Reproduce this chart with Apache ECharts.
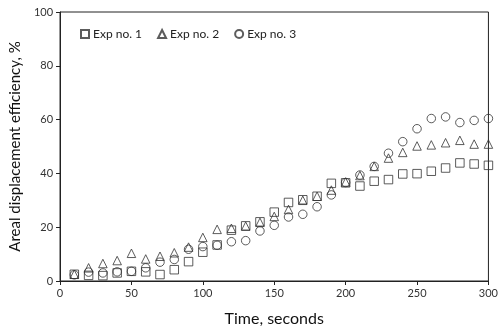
<!DOCTYPE html>
<html><head><meta charset="utf-8">
<script src="https://cdn.jsdelivr.net/npm/echarts@6/dist/echarts.min.js"></script>
<style>html,body{margin:0;padding:0;background:#fff}#c{width:501px;height:332px}</style>
</head><body><div id="c"></div>
<script>
const times = [10,20,30,40,50,60,70,80,90,100,110,120,130,140,150,160,170,180,190,200,210,220,230,240,250,260,270,280,290,300];
const exp1 = [2.5,2.1,2.0,3.0,3.6,3.4,2.4,4.2,7.2,10.7,13.4,18.9,20.5,22,25.6,29.2,30.2,31.5,36.3,36.5,35.3,37.1,37.7,39.8,39.9,40.8,42,43.9,43.5,43];
const exp2 = [2.5,4.9,6.5,7.6,10.3,8.2,9.2,10.5,12.6,16.2,19.2,19.6,20.4,21.8,24,26.6,30,31.5,33.8,36.8,39.2,42.6,45.7,47.8,50.2,50.6,51.4,52.3,50.9,50.9];
const exp3 = [2.3,3.3,3,3.4,3.6,4.9,7,8,11.8,12.8,13.3,14.6,15,18.6,20.7,23.8,24.8,27.6,32,36.6,39.4,42.6,47.5,51.8,56.6,60.4,61,58.9,59.7,60.4];
const seriesNames = ['Exp no. 1','Exp no. 2','Exp no. 3'];
const xTicks = {min:0,max:300,interval:50};
const yTicks = {min:0,max:100,interval:20};

const font = 'Lato, "Open Sans", sans-serif';
const ink = '#333';
function pts(v){return times.map((t,i)=>[t,v[i]]);}
const symbols = ['rect','triangle','circle'];
const chart = echarts.init(document.getElementById('c'));
chart.setOption({
  animation:false,
  backgroundColor:'#fff',
  grid:{left:57,right:8,top:12,bottom:49,show:true,borderColor:'#222',borderWidth:1},
  legend:{
    top:23,left:75,itemWidth:8,itemHeight:8,itemGap:15,
    textStyle:{fontFamily:font,fontSize:12,color:'#222',padding:[0,0,0,-1]},
    data:seriesNames.map((n,i)=>({name:n,icon:symbols[i]}))
  },
  xAxis:{
    type:'value',min:xTicks.min,max:xTicks.max,interval:xTicks.interval,
    name:'Time, seconds',nameLocation:'middle',nameGap:30,
    nameTextStyle:{fontFamily:font,fontSize:16,color:'#111'},
    axisLine:{lineStyle:{color:'#222'}},
    axisTick:{show:true,length:4,lineStyle:{color:'#222'}},
    axisLabel:{fontFamily:font,fontSize:11,color:'#333',margin:7},
    splitLine:{show:false}
  },
  yAxis:{
    type:'value',min:yTicks.min,max:yTicks.max,interval:yTicks.interval,
    name:'Areal displacement efficiency, %',nameLocation:'middle',nameGap:34,
    nameTextStyle:{fontFamily:font,fontSize:15,color:'#111'},
    axisLine:{show:true,lineStyle:{color:'#222'}},
    axisTick:{show:true,length:4,lineStyle:{color:'#222'}},
    axisLabel:{fontFamily:font,fontSize:11,color:'#333',margin:7},
    splitLine:{show:false}
  },
  series:[exp1,exp2,exp3].map((v,i)=>({
    name:seriesNames[i],type:'scatter',data:pts(v),
    symbol:symbols[i],symbolSize:8.5,
    itemStyle:{color:'rgba(255,255,255,0)',borderColor:ink,borderWidth:1}
  }))
});
</script></body></html>
